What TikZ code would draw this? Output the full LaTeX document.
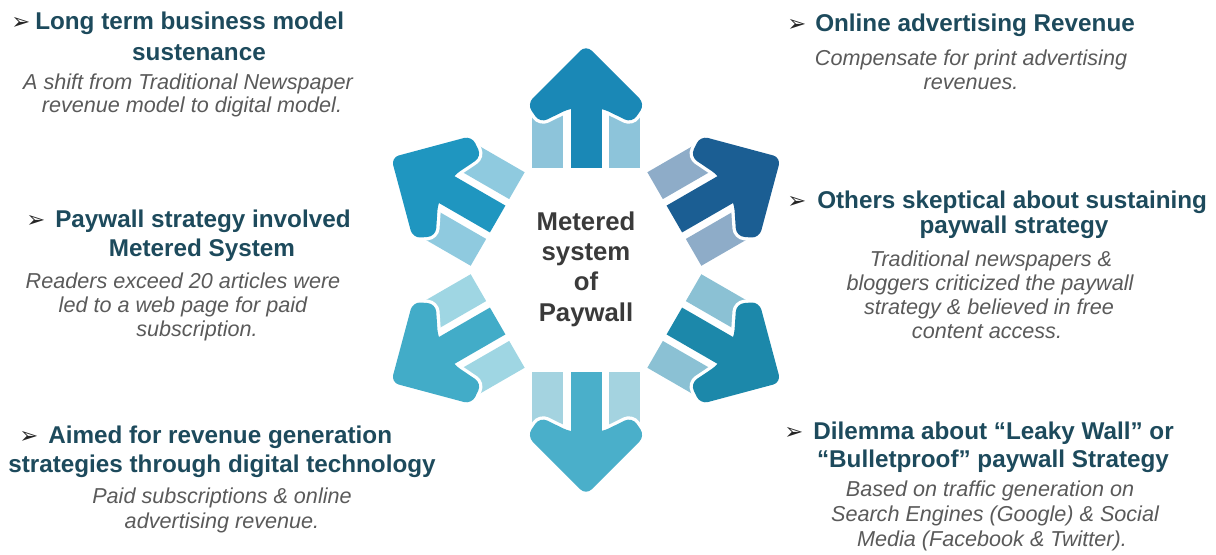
\documentclass[tikz,border=0pt]{standalone}
\usepackage{fontspec}
\setmainfont{Liberation Sans}
\newfontfamily\symfont{DejaVu Sans}

% text colours
\definecolor{headc}{HTML}{1D4A5C}
\definecolor{notec}{HTML}{5A5A5A}
\definecolor{bulc}{HTML}{262626}
\definecolor{midc}{HTML}{3A3A3A}
% arrow bodies and their side strips
\definecolor{aUp}{HTML}{1A88B6}\definecolor{sUp}{HTML}{8DC4DA}
\definecolor{aUR}{HTML}{1B5E93}\definecolor{sUR}{HTML}{8EACC8}
\definecolor{aLR}{HTML}{1C88AA}\definecolor{sLR}{HTML}{8BC1D4}
\definecolor{aDn}{HTML}{4AAFCA}\definecolor{sDn}{HTML}{A4D3E0}
\definecolor{aLL}{HTML}{42ACC8}\definecolor{sLL}{HTML}{9FD6E3}
\definecolor{aUL}{HTML}{1F96C0}\definecolor{sUL}{HTML}{8FCADF}

\tikzset{
  % one arrow leaving the central hexagon along the local x axis
  pics/radarrow/.style 2 args={code={
    \fill[#2] (102,23) rectangle (157,54);
    \fill[#2] (102,-54) rectangle (157,-23);
    \path[draw=white, fill=white, line width=5pt, rounded corners=6pt]
      (225,0) -- (166,59) -- (147,46) -- (162,15.5) -- (162,-15.5)
      -- (147,-46) -- (166,-59) -- cycle;
    \path[draw=white, fill=white, line width=5pt] (102,-15.5) rectangle (170,15.5);
    \fill[#1] (102,-15.5) rectangle (170,15.5);
    \fill[#1, rounded corners=6pt]
      (225,0) -- (166,59) -- (147,46) -- (162,15.5) -- (162,-15.5)
      -- (147,-46) -- (166,-59) -- cycle;
  }},
  head/.style={font=\bfseries\fontsize{18.2}{22}\selectfont, text=headc, inner sep=0pt},
  note/.style={font=\itshape\fontsize{16.2}{19}\selectfont, text=notec, inner sep=0pt, anchor=base},
  bul/.style={font=\symfont\fontsize{17}{19}\selectfont, text=bulc, inner sep=0pt, anchor=base west},
  lead/.style={head, anchor=base west},
  cont/.style={head, anchor=base},
  hub/.style={font=\bfseries\fontsize{19.3}{22.8}\selectfont, text=midc, align=center, inner sep=0pt}
}

\begin{document}
\begin{tikzpicture}[x=0.75pt, y=0.75pt]
\useasboundingbox (0,0) rectangle (1216,-554);

% six arrows around the hexagon
\coordinate (hub) at (586,-270);
\pic[rotate=90]   at (hub) {radarrow={aUp}{sUp}};
\pic[rotate=30]   at (hub) {radarrow={aUR}{sUR}};
\pic[rotate=-30]  at (hub) {radarrow={aLR}{sLR}};
\pic[rotate=-90]  at (hub) {radarrow={aDn}{sDn}};
\pic[rotate=-150] at (hub) {radarrow={aLL}{sLL}};
\pic[rotate=150]  at (hub) {radarrow={aUL}{sUL}};

\node[hub] (centre) at (586,-269) {Metered\\system\\of\\Paywall};

% top left
\node[bul]  (tlb) at (11,-29) {➢};
\node[lead] (tl1) at (35,-29) {Long term business model};
\node[cont] (tl2) at (199,-60) {sustenance};
\node[note] (tl3) at (188,-89) {A shift from Traditional Newspaper};
\node[note] (tl4) at (192,-112) {revenue model to digital model.};

% top right
\node[bul]  (trb) at (787,-31) {➢};
\node[lead] (tr1) at (815,-31) {Online advertising Revenue};
\node[note] (tr2) at (971,-65) {Compensate for print advertising};
\node[note] (tr3) at (971,-89) {revenues.};

% middle left
\node[bul]  (mlb) at (26,-227) {➢};
\node[lead] (ml1) at (55,-227) {Paywall strategy involved};
\node[cont] (ml2) at (202,-256) {Metered System};
\node[note] (ml3) at (183,-288) {Readers exceed 20 articles were};
\node[note] (ml4) at (183,-312) {led to a web page for paid};
\node[note] (ml5) at (197,-336) {subscription.};

% middle right
\node[bul]  (mrb) at (787,-208) {➢};
\node[lead] (mr1) at (817,-208) {Others skeptical about sustaining};
\node[cont] (mr2) at (1014,-233) {paywall strategy};
\node[note] (mr3) at (991,-266) {Traditional newspapers \&};
\node[note] (mr4) at (990,-290) {bloggers criticized the paywall};
\node[note] (mr5) at (989,-314) {strategy \& believed in free};
\node[note] (mr6) at (987,-338) {content access.};

% bottom left
\node[bul]  (blb) at (19,-443) {➢};
\node[lead] (bl1) at (48,-443) {Aimed for revenue generation};
\node[cont] (bl2) at (222,-472) {strategies through digital technology};
\node[note] (bl3) at (222,-503) {Paid subscriptions \& online};
\node[note] (bl4) at (222,-528) {advertising revenue.};

% bottom right
\node[bul]  (brb) at (784,-439) {➢};
\node[lead] (br1) at (813,-439) {Dilemma about “Leaky Wall” or};
\node[cont] (br2) at (993,-467) {“Bulletproof” paywall Strategy};
\node[note] (br3) at (990,-496) {Based on traffic generation on};
\node[note] (br4) at (995,-521) {Search Engines (Google) \& Social};
\node[note] (br5) at (992,-546) {Media (Facebook \& Twitter).};
\end{tikzpicture}
\end{document}
